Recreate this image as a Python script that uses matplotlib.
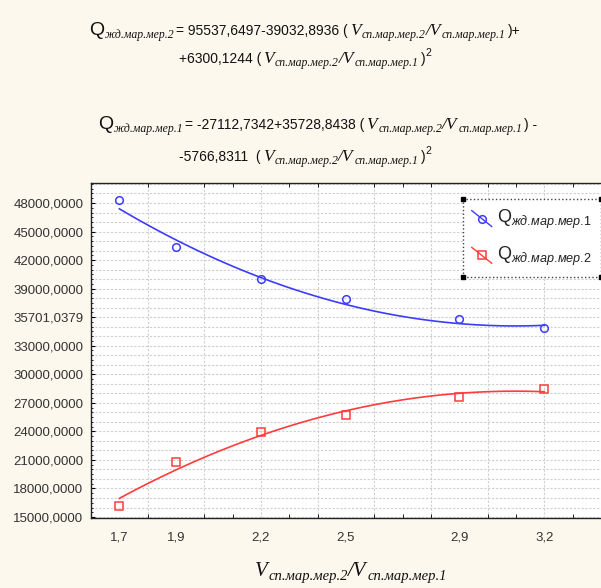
import numpy as np
import matplotlib
matplotlib.use("Agg")
import matplotlib.pyplot as plt
from matplotlib.legend_handler import HandlerLine2D

# data
x_ratio = [1.7, 1.9, 2.2, 2.5, 2.9, 3.2]
x_labels = ["1,7", "1,9", "2,2", "2,5", "2,9", "3,2"]
q_mer1 = [48300, 43400, 40000, 37900, 35800, 34900]
q_mer2 = [16200, 20800, 23900, 25700, 27600, 28450]

# fit coefficients as printed above the chart (c0 + c1*x + c2*x^2)
coef_eq_mer2 = [95537.6497, -39032.8936, 6300.1244]
coef_eq_mer1 = [-27112.7342, 35728.8438, -5766.8311]

y_ticks = [15000, 18000, 21000, 24000, 27000, 30000, 33000, 36000,
           39000, 42000, 45000, 48000]
y_labels = ["15000,0000", "18000,0000", "21000,0000", "24000,0000",
            "27000,0000", "30000,0000", "33000,0000", "35701,0379",
            "39000,0000", "42000,0000", "45000,0000", "48000,0000"]

bg = "#fcf8ee"
blue = "#3c3cff"
red = "#ff3c3c"

plt.rcParams["mathtext.fontset"] = "custom"
plt.rcParams["mathtext.rm"] = "Liberation Sans"
plt.rcParams["mathtext.it"] = "Liberation Sans:italic"

fonts = {
    "sans": dict(family=["Liberation Sans", "DejaVu Sans"]),
    "narrow": dict(family=["Liberation Sans Narrow", "Liberation Sans", "DejaVu Sans"]),
    "serif_it": dict(family=["Liberation Serif", "DejaVu Serif"], style="italic"),
}

W, H = 601, 588
fig = plt.figure(figsize=(W / 100, H / 100), dpi=100, facecolor=bg)
ax = fig.add_axes([91 / W, 70 / H, 510 / W, 335 / H])
ax.set_facecolor("white")

# grid
for gx in np.arange(1.8, 3.35, 0.2):
    ax.axvline(gx, color="#cfcfcf", lw=0.8, ls=(0, (2, 1.5)), zorder=0)
for gy in range(15000, 50001, 1000):
    ax.axhline(gy, color="#cfcfcf", lw=0.8, ls=(0, (2, 1.5)), zorder=0)

# fitted curves
xs = np.linspace(x_ratio[0], x_ratio[-1], 60)
fit_blue = np.polynomial.polynomial.polyval(xs, coef_eq_mer2)
fit_red = np.polynomial.polynomial.polyval(xs, coef_eq_mer1)
ax.plot(xs, fit_blue, color=blue, lw=1.2, zorder=2)
ax.plot(xs, fit_red, color=red, lw=1.2, zorder=2)

ax.plot(x_ratio, q_mer1, "o", mfc="none", mec=blue, ms=5.5, mew=1.1, zorder=3)
ax.plot(x_ratio, q_mer2, "s", mfc="none", mec=red, ms=6, mew=1.1, zorder=3)

ax.set_xlim(1.6, 3.37)
ax.set_ylim(14900, 50100)

tick_size = 9.5
ax.set_xticks(x_ratio)
ax.set_xticklabels(x_labels, fontsize=tick_size, color="#333333", **fonts["narrow"])
ax.set_xticks(np.arange(1.6, 3.41, 0.1), minor=True)
ax.tick_params(axis="x", which="major", length=0, pad=10)
ax.tick_params(axis="x", which="minor", direction="in", length=3, top=True, bottom=True)

ax.set_yticks(y_ticks)
ax.set_yticklabels(y_labels, fontsize=tick_size, color="#333333", **fonts["narrow"])
ax.set_yticks(np.arange(15000, 50001, 500), minor=True)
ax.tick_params(axis="y", which="major", direction="in", length=3, pad=5.5)
ax.tick_params(axis="y", which="minor", direction="in", length=1.5)

for s in ["left", "bottom", "top"]:
    ax.spines[s].set_color("#222222")
    ax.spines[s].set_linewidth(1.0)
ax.spines["right"].set_visible(False)


# legend with diagonal handle lines
class DiagHandler(HandlerLine2D):
    def create_artists(self, legend, orig_handle, xdescent, ydescent,
                       width, height, fontsize, trans):
        arts = super().create_artists(legend, orig_handle, xdescent, ydescent,
                                      width, height, fontsize, trans)
        line = arts[0]
        xd = line.get_xdata()
        yd = np.linspace(height * 1.0, -height * 0.25, len(xd))
        line.set_ydata(yd)
        return arts


h1, = ax.plot([], [], "-o", color=blue, mfc="none", mec=blue, ms=5.5, mew=1.1, lw=1)
h2, = ax.plot([], [], "-s", color=red, mfc="none", mec=red, ms=6, mew=1.1, lw=1)
leg = ax.legend([h1, h2],
                [r"$\mathrm{Q}_{жд.\!мар.\!мер.\!1}$",
                 r"$\mathrm{Q}_{жд.\!мар.\!мер.\!2}$"],
                loc="upper left", bbox_to_anchor=(0.729, 0.952),
                borderaxespad=0, numpoints=1, fontsize=13,
                handlelength=1.1, handletextpad=0.3, labelspacing=0.75,
                borderpad=0.5, fancybox=False,
                handler_map={h1: DiagHandler(), h2: DiagHandler()})
frame = leg.get_frame()
frame.set_edgecolor("#444444")
frame.set_linestyle(":")
frame.set_linewidth(1.0)
frame.set_facecolor("white")
frame.set_alpha(1)
for t in leg.get_texts():
    t.set_color("#222222")

renderer = fig.canvas.get_renderer()
fig.canvas.draw()
bb = leg.get_window_extent(renderer).transformed(ax.transAxes.inverted())
ax.plot([bb.x0, bb.x1, bb.x0, bb.x1], [bb.y0, bb.y0, bb.y1, bb.y1], "s",
        color="black", ms=3, transform=ax.transAxes, clip_on=False, zorder=6)


# equation lines built from pieces: (text, font, size, gap px, raise px)
def put_line(pieces, xc, ybase):
    placed = []
    x = 0
    for s, fk, size, gap, dy in pieces:
        x += gap
        t = fig.text(0, 0, s, fontsize=size, va="baseline", ha="left",
                     color="#111111", **fonts[fk])
        w = t.get_window_extent(renderer).width
        placed.append((t, x, dy))
        x += w
    left = xc - x / 2
    for t, px, dy in placed:
        t.set_position(((left + px) / W, 1 - (ybase - dy) / H))


sub_size = 8.5
v_size = 12.5
num_size = 10


def ratio_pieces():
    return [
        ("V", "serif_it", v_size, 2, 0),
        ("сп.мар.мер.2", "serif_it", sub_size, 1, -3),
        ("/V", "serif_it", v_size, 0, 0),
        ("сп.мар.мер.1", "serif_it", sub_size, 1, -3),
    ]


eq1_l1 = ([("Q", "sans", 14, 0, 0),
           ("жд.мар.мер.2", "serif_it", sub_size, 0, -3),
           ("= 95537,6497-39032,8936 (", "narrow", num_size, 2, 0)]
          + ratio_pieces() + [(")+", "narrow", num_size, 2, 0)])
eq1_l2 = ([("+6300,1244 (", "narrow", num_size, 0, 0)]
          + ratio_pieces() + [(")", "narrow", num_size, 2, 0),
                              ("2", "narrow", 7.5, 0, 7)])
eq2_l1 = ([("Q", "sans", 14, 0, 0),
           ("жд.мар.мер.1", "serif_it", sub_size, 0, -3),
           ("= -27112,7342+35728,8438 (", "narrow", num_size, 2, 0)]
          + ratio_pieces() + [(") -", "narrow", num_size, 2, 0)])
eq2_l2 = ([("-5766,8311  (", "narrow", num_size, 0, 0)]
          + ratio_pieces() + [(")", "narrow", num_size, 2, 0),
                              ("2", "narrow", 7.5, 0, 7)])

put_line(eq1_l1, 305, 35)
put_line(eq1_l2, 305, 63)
put_line(eq2_l1, 318, 129)
put_line(eq2_l2, 305, 161)

xlab = [("V", "serif_it", 15, 0, 0),
        ("сп.мар.мер.2", "serif_it", 10.5, 1, -4),
        ("/V", "serif_it", 15, 0, 0),
        ("сп.мар.мер.1", "serif_it", 10.5, 1, -4)]
put_line(xlab, 351, 576)

fig.savefig("out.png", dpi=100, facecolor=bg)
